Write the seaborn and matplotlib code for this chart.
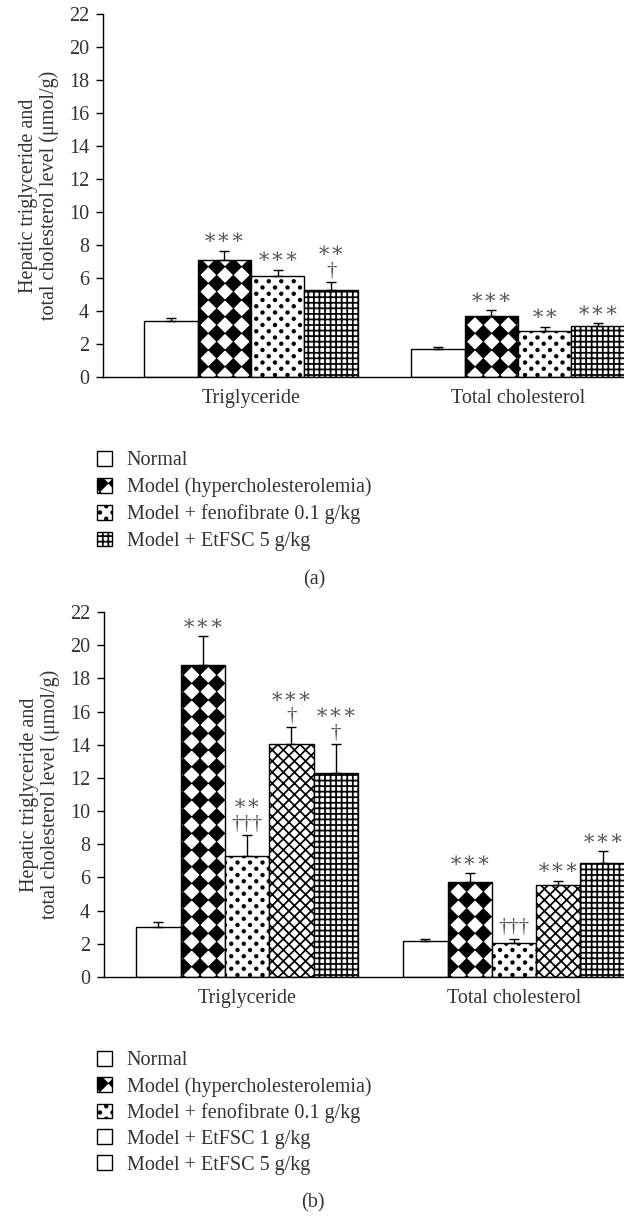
import numpy as np
import pandas as pd
import seaborn as sns
import matplotlib.pyplot as plt
from matplotlib import hatch as mhatch
from matplotlib.path import Path
from matplotlib.patches import Patch

# ---------------- data ----------------
lipids = ['Triglyceride', 'Total cholesterol']

groups_a = ['Normal', 'Model (hypercholesterolemia)',
            'Model + fenofibrate 0.1 g/kg', 'Model + EtFSC 5 g/kg']
tg_a = [3.4, 7.1, 6.1, 5.3]
tg_a_err = [0.2, 0.55, 0.4, 0.45]
tc_a = [1.7, 3.7, 2.8, 3.1]
tc_a_err = [0.1, 0.33, 0.25, 0.15]
tg_a_marks = ['', '∗∗∗', '∗∗∗', '∗∗\n†']
tc_a_marks = ['', '∗∗∗', '∗∗', '∗∗∗']

groups_b = ['Normal', 'Model (hypercholesterolemia)',
            'Model + fenofibrate 0.1 g/kg', 'Model + EtFSC 1 g/kg',
            'Model + EtFSC 5 g/kg']
tg_b = [3.0, 18.8, 7.3, 14.05, 12.3]
tg_b_err = [0.3, 1.75, 1.25, 1.0, 1.75]
tc_b = [2.15, 5.7, 2.07, 5.53, 6.87]
tc_b_err = [0.17, 0.55, 0.23, 0.27, 0.7]
tg_b_marks = ['', '∗∗∗', '∗∗\n†††', '∗∗∗\n†', '∗∗∗\n†']
tc_b_marks = ['', '∗∗∗', '†††', '∗∗∗', '∗∗∗']

yticks = list(range(0, 23, 2))


# ---------------- custom hatches: black diamonds ('*') and dots ('.') ----------------
class Diamonds(mhatch.HatchPatternBase):
    def __init__(self, hatch, density):
        self.n = hatch.count('*') * density
        self.num_vertices = (self.n + 1) ** 2 * 5 if self.n else 0

    def set_vertices_and_codes(self, vertices, codes):
        h = 0.45 / self.n
        shape = np.array([[h, 0], [0, h], [-h, 0], [0, -h], [h, 0]])
        pts = np.linspace(0, 1, self.n + 1)
        parts = [shape + [x, y] for y in pts for x in pts]
        vertices[:] = np.concatenate(parts)
        codes[:] = np.tile([Path.MOVETO, Path.LINETO, Path.LINETO,
                            Path.LINETO, Path.CLOSEPOLY], len(parts))


class Dots(mhatch.HatchPatternBase):
    def __init__(self, hatch, density):
        self.n = hatch.count('.') * 8
        self.circle = Path.unit_circle()
        self.centers = []
        if self.n:
            for r in range(2 * self.n + 1):
                if r % 2 == 0:
                    xs = np.linspace(0, 1, self.n + 1)
                else:
                    xs = (np.arange(self.n) + 0.5) / self.n
                self.centers += [(x, r / (2 * self.n)) for x in xs]
        self.num_vertices = len(self.centers) * len(self.circle.vertices)

    def set_vertices_and_codes(self, vertices, codes):
        shape = self.circle.vertices * 0.013
        vertices[:] = np.concatenate([shape + c for c in self.centers])
        codes[:] = np.tile(self.circle.codes, len(self.centers))


mhatch._hatch_types[:] = [t for t in mhatch._hatch_types
                          if t not in (mhatch.Stars, mhatch.SmallFilledCircles)] + [Diamonds, Dots]

sns.set_style('ticks')
plt.rcParams['font.family'] = ['Liberation Serif', 'DejaVu Serif']
plt.rcParams['font.size'] = 14.5
plt.rcParams['hatch.linewidth'] = 1.25
plt.rcParams['text.color'] = '#333333'

TXT = '#333333'


def draw_panel(ax, groups, tg, tg_err, tc, tc_err, tg_marks, tc_marks, hatches, width, xlim):
    n = len(groups)
    df = pd.DataFrame({
        'lipid': [lipids[0]] * n + [lipids[1]] * n,
        'group': groups * 2,
        'value': tg + tc,
        'err': tg_err + tc_err,
        'mark': tg_marks + tc_marks,
    })
    sns.barplot(data=df, x='lipid', y='value', hue='group', order=lipids, hue_order=groups,
                palette={g: 'white' for g in groups}, saturation=1, edgecolor='black',
                linewidth=1.0, width=width, errorbar=None, legend=False, ax=ax)
    for i, (cont, hatch) in enumerate(zip(ax.containers, hatches)):
        for j, bar in enumerate(cont):
            bar.set_hatch(hatch)
            row = df[(df['group'] == groups[i]) & (df['lipid'] == lipids[j])].iloc[0]
            xc = bar.get_x() + bar.get_width() / 2
            top = bar.get_height()
            ax.errorbar(xc, top, yerr=[[0], [row['err']]], fmt='none', ecolor='black',
                        elinewidth=1.0, capsize=3.3, capthick=1.0, zorder=1)
            if row['mark']:
                ax.annotate(row['mark'], (xc, top + row['err']), xytext=(0, 1),
                            textcoords='offset points', ha='center', va='bottom',
                            color='#555555', fontsize=15, linespacing=0.95)
    ax.set_ylim(0, 22)
    ax.set_yticks(yticks)
    ax.set_xlim(*xlim)
    ax.set_xlabel('')
    ax.set_ylabel('Hepatic triglyceride and\ntotal cholesterol level (μmol/g)',
                  color=TXT, linespacing=1.1, labelpad=7)
    ax.tick_params(axis='y', direction='out', length=5, width=1.0, pad=5,
                   colors='black', labelcolor=TXT)
    ax.tick_params(axis='x', length=0, pad=9, labelcolor=TXT)
    for s in ['top', 'right']:
        ax.spines[s].set_visible(False)
    for s in ['left', 'bottom']:
        ax.spines[s].set_linewidth(1.0)
        ax.spines[s].set_color('black')


fig = plt.figure(figsize=(6.24, 12.16), dpi=100)
ax_a = fig.add_axes([0.1651, 0.6900, 0.8349, 0.2985])
ax_b = fig.add_axes([0.1667, 0.19655, 0.8333, 0.30016])

hatches_a = ['', '*', '.', '+++']
hatches_b = ['', '*', '.', 'xxx', '+++']
draw_panel(ax_a, groups_a, tg_a, tg_a_err, tc_a, tc_a_err, tg_a_marks, tc_a_marks,
           hatches_a, 0.8, (-0.554, 1.397))
draw_panel(ax_b, groups_b, tg_b, tg_b_err, tc_b, tc_b_err, tg_b_marks, tc_b_marks,
           hatches_b, 0.83, (-0.536, 1.412))

# legends
leg_hatch_a = ['', '*', '.', '+++']
leg_hatch_b = ['', '*', '.', '', '']
for groups, lh, top, sp in [(groups_a, leg_hatch_a, 0.6292, 0.36),
                            (groups_b, leg_hatch_b, 0.1357, 0.32)]:
    handles = [Patch(facecolor='white', edgecolor='black', hatch=h, linewidth=1.0) for h in lh]
    fig.legend(handles, groups, loc='upper left', bbox_to_anchor=(0.155, top),
               frameon=False, borderpad=0, borderaxespad=0, handlelength=0.75,
               handleheight=0.75, handletextpad=0.75, labelspacing=sp, labelcolor=TXT)

fig.text(314 / 624, 1 - 580 / 1216, '(a)', ha='center', va='center', color=TXT)
fig.text(313 / 624, 1 - 1203 / 1216, '(b)', ha='center', va='center', color=TXT)

fig.savefig('out.png', dpi=100)
